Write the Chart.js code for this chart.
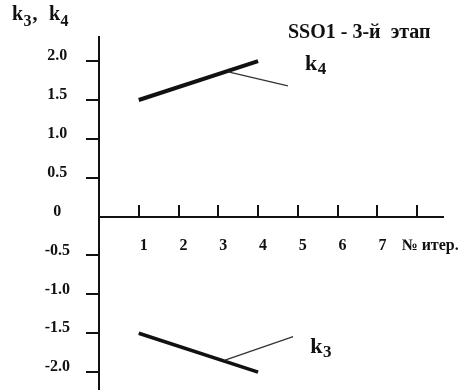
<!DOCTYPE html>
<html>
<head>
<meta charset="utf-8">
<script src="https://cdn.jsdelivr.net/npm/chart.js@4.4.1/dist/chart.umd.min.js"></script>
<style>
  html, body { margin: 0; padding: 0; background: #fff; }
  #wrap { width: 468px; height: 390px; }
</style>
</head>
<body>
<div id="wrap"><canvas id="myChart"></canvas></div>
<script>
// values
let iterations = [1, 4];
let k4Values = [1.5, 2.0];
let k3Values = [-1.5, -2.0];

let xTicks = [1, 2, 3, 4, 5, 6, 7, 8];
let xTickLabels = ['1', '2', '3', '4', '5', '6', '7', '\u2003№ итер.'];
let yTicks = [-2.0, -1.5, -1.0, -0.5, 0, 0.5, 1.0, 1.5, 2.0];

let titleText = 'SSO1 - 3-й  этап';

// leader lines to the k3 / k4 labels (in data units)
let leaders = [
  { sub: '4', from: [3.25, 1.86], to: [4.75, 1.68], label: [5.18, 1.88] },
  { sub: '3', from: [3.17, -1.845], to: [4.88, -1.544], label: [5.31, -1.754] }
];

const ink = '#111';
const font = size => 'bold ' + size + 'px "Liberation Serif", "Times New Roman", serif';

// "k" with a subscript, returns the x where it ended
function drawK(c, sub, x, y, size, subSize, drop) {
  c.font = font(size);
  c.fillText('k', x, y);
  let w = c.measureText('k').width;
  c.font = font(subSize);
  c.fillText(sub, x + w + 0.5, y + drop);
  return x + w + 0.5 + c.measureText(sub).width;
}

const notes = {
  id: 'notes',
  afterDatasetsDraw(chart) {
    const c = chart.ctx, xs = chart.scales.x, ys = chart.scales.y;
    c.save();
    c.fillStyle = ink;
    c.textAlign = 'left';
    c.textBaseline = 'alphabetic';
    c.strokeStyle = '#333';
    c.lineWidth = 1.3;
    leaders.forEach(l => {
      c.beginPath();
      c.moveTo(xs.getPixelForValue(l.from[0]), ys.getPixelForValue(l.from[1]));
      c.lineTo(xs.getPixelForValue(l.to[0]), ys.getPixelForValue(l.to[1]));
      c.stroke();
      drawK(c, l.sub, xs.getPixelForValue(l.label[0]), ys.getPixelForValue(l.label[1]), 22, 17, 4);
    });
    // axis name, top left
    let x = drawK(c, '3', 12, 20, 20, 16, 6);
    c.font = font(20);
    c.fillText(',', x + 1, 20);
    drawK(c, '4', 49, 20, 20, 16, 6);
    // title
    c.font = font(20);
    c.fillText(titleText, 288, 38);
    c.restore();
  }
};

const ctx = document.getElementById('myChart');

let myChart = new Chart(ctx, {
  type: 'line',
  data: {
    datasets: [{
      label: 'k4',
      data: iterations.map((x, i) => ({ x: x, y: k4Values[i] })),
      borderColor: ink,
      borderWidth: 4,
      pointRadius: 0,
      fill: false
    }, {
      label: 'k3',
      data: iterations.map((x, i) => ({ x: x, y: k3Values[i] })),
      borderColor: ink,
      borderWidth: 3.6,
      pointRadius: 0,
      fill: false
    }]
  },
  options: {
    animation: false,
    responsive: true,
    maintainAspectRatio: false,
    layout: { padding: { top: 37, right: 25, bottom: 0, left: 0 } },
    plugins: {
      legend: { display: false },
      tooltip: { enabled: false },
      title: { display: false }
    },
    scales: {
      x: {
        type: 'linear',
        min: 0,
        max: 8.65,
        position: { y: 0 },
        afterBuildTicks: s => { s.ticks = xTicks.map(v => ({ value: v })); },
        afterFit: s => { s.paddingLeft = 0; s.paddingRight = 0; },
        border: { display: true, color: ink, width: 2 },
        grid: { drawOnChartArea: false, drawTicks: true, tickLength: -13, color: ink, lineWidth: 2 },
        ticks: {
          autoSkip: false,
          maxRotation: 0,
          padding: 33,
          labelOffset: 5,
          color: ink,
          font: { family: '"Liberation Serif", serif', size: 16, weight: 'bold' },
          callback: (v, i) => xTickLabels[i]
        }
      },
      y: {
        min: -2.23,
        max: 2.31,
        afterBuildTicks: s => { s.ticks = yTicks.map(v => ({ value: v })); },
        afterFit: s => { s.width = 99; s.paddingTop = 0; s.paddingBottom = 0; },
        border: { display: true, color: ink, width: 2 },
        grid: {
          drawOnChartArea: false,
          drawTicks: true,
          tickLength: 13,
          lineWidth: 2,
          color: c => (c.tick && c.tick.value === 0) ? 'rgba(0,0,0,0)' : ink
        },
        ticks: {
          padding: 16,
          crossAlign: 'center',
          labelOffset: -5,
          color: ink,
          font: { family: '"Liberation Serif", serif', size: 16, weight: 'bold' },
          callback: v => v === 0 ? '0' : v.toFixed(1)
        }
      }
    }
  },
  plugins: [notes]
});
</script>
</body>
</html>
